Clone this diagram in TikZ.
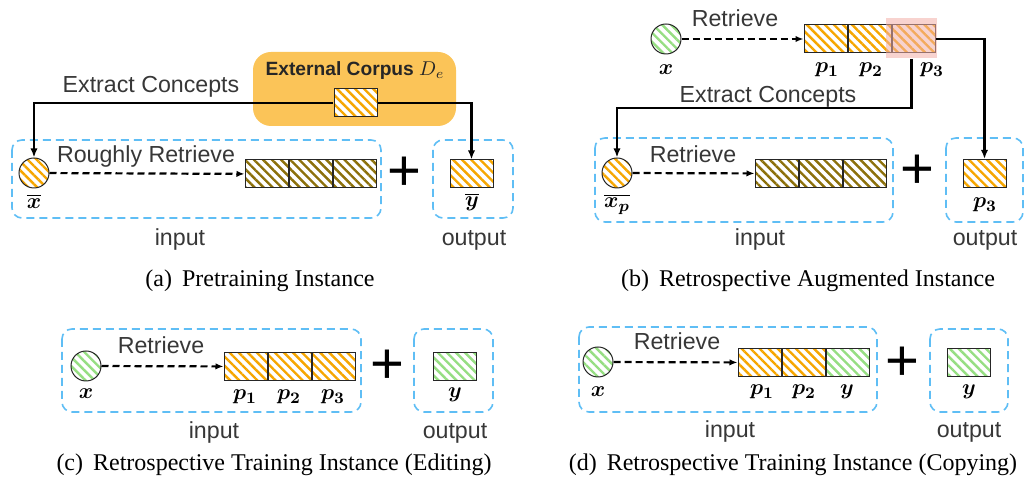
\documentclass[tikz,border=0pt]{standalone}
\usepackage{amsmath,amssymb}
\usepackage[no-math]{fontspec}
\setmainfont{Liberation Serif}
\setsansfont{Liberation Sans}
\usepackage{xcolor}
\usetikzlibrary{arrows.meta, positioning, patterns.meta}

\definecolor{corpus}{RGB}{251,196,88}
\definecolor{hatchorange}{RGB}{246,166,0}
\definecolor{hatchgreen}{RGB}{150,222,130}
\definecolor{hatcholive}{RGB}{140,112,10}
\definecolor{boxblue}{RGB}{95,190,245}
\definecolor{labelgray}{RGB}{55,55,55}
\definecolor{highlight}{RGB}{242,175,168}

\begin{document}
\begin{tikzpicture}[x=0.5pt, y=-0.5pt, thick]
    \tikzstyle{cell} = [rectangle, draw=black!85, line width=0.5pt, minimum width=21.5pt, minimum height=14pt, inner sep=0pt, preaction={fill=white}]
    \tikzstyle{token} = [circle, draw=black!85, line width=0.5pt, minimum size=15pt, inner sep=0pt, preaction={fill=white}]
    \tikzstyle{orangefill} = [pattern={Lines[angle=-45,distance=3.2pt,line width=1.2pt]}, pattern color=hatchorange]
    \tikzstyle{greenfill} = [pattern={Lines[angle=-45,distance=3.2pt,line width=1.2pt]}, pattern color=hatchgreen]
    \tikzstyle{olivefill} = [pattern={Lines[angle=-45,distance=3.2pt,line width=1.2pt]}, pattern color=hatcholive]
    \tikzstyle{group} = [draw=boxblue, dash pattern=on 4pt off 2.5pt, rounded corners=5pt, line width=0.8pt]
    \tikzstyle{line} = [draw, -{Latex[length=4.5pt,width=3.6pt]}, line width=1.1pt]
    \tikzstyle{retrieve} = [draw, -{Latex[length=4pt,width=3.2pt]}, dash pattern=on 3.5pt off 2pt, line width=1.1pt]
    \tikzstyle{lbl} = [font=\sffamily\fontsize{11.6}{13}\selectfont, text=labelgray, inner sep=1pt]
    \tikzstyle{var} = [font=\fontsize{11}{13}\selectfont, inner sep=1pt]
    \tikzstyle{plus} = [font=\sffamily\fontsize{29}{29}\selectfont, inner sep=0pt]
    \tikzstyle{caption} = [font=\fontsize{12}{14}\selectfont]

    \useasboundingbox (0,0) rectangle (1024,485);

    % (a) Pretraining Instance
    \node [rounded corners=9pt, fill=corpus, minimum width=101.5pt, minimum height=37pt] (corpus) at (354.5,89) {};
    \node [font=\sffamily\bfseries\fontsize{9.6}{11}\selectfont, text=black!85] (corpustxt) at (355,71) {External Corpus $D_e$};
    \node [cell, orangefill] (doc) at (355.5,103) {};
    \node [lbl] (extracta) at (151,87) {Extract Concepts};
    \draw [group] (12,140) rectangle (381,218);
    \draw [group] (433,140) rectangle (513,218);
    \node [token, orangefill] (xa) at (34,173) {};
    \node [lbl] (roughly) at (146,157) {Roughly Retrieve};
    \node [cell, olivefill] (ra1) at (266.5,174) {};
    \node [cell, olivefill, right=0pt of ra1] (ra2) {};
    \node [cell, olivefill, right=0pt of ra2] (ra3) {};
    \node [plus] (plusa) at (404,174) {+};
    \node [cell, orangefill] (ya) at (471.5,174) {};
    \node [var] (xalbl) at (34,201) {$\overline{\boldsymbol{x}}$};
    \node [var] (yalbl) at (472,202) {$\overline{\boldsymbol{y}}$};
    \node [lbl] (ina) at (180,240) {input};
    \node [lbl] (outa) at (474,240) {output};
    \node [caption] (capa) at (260,281) {(a)\, Pretraining Instance};
    \path [retrieve] (xa) -- (ra1);
    \path [line] (doc.west) -| (xa.north);
    \path [line] (doc.east) -| (ya.north);

    % (b) Retrospective Augmented Instance
    \node [token, greenfill] (xb) at (666,39) {};
    \node [lbl] (retb) at (735,18) {Retrieve};
    \node [cell, orangefill] (pb1) at (825.5,39) {};
    \node [cell, orangefill, right=0pt of pb1] (pb2) {};
    \node [cell, orangefill, right=0pt of pb2] (pb3) {};
    \node [fill=highlight, fill opacity=0.55, minimum width=25.5pt, minimum height=20pt, inner sep=0pt] (hl) at (911.5,38) {};
    \node [var] (xblbl) at (666,70) {$\boldsymbol{x}$};
    \node [var] (pb1lbl) at (827,70) {$\boldsymbol{p_1}$};
    \node [var] (pb2lbl) at (871,70) {$\boldsymbol{p_2}$};
    \node [var] (pb3lbl) at (932,70) {$\boldsymbol{p_3}$};
    \node [lbl] (extractb) at (768,97) {Extract Concepts};
    \draw [group] (595,138) rectangle (893,222);
    \draw [group] (946,138) rectangle (1023,222);
    \node [token, orangefill] (xpb) at (617,173) {};
    \node [lbl] (retb2) at (693,154) {Retrieve};
    \node [cell, olivefill] (rb1) at (776.5,173.5) {};
    \node [cell, olivefill, right=0pt of rb1] (rb2) {};
    \node [cell, olivefill, right=0pt of rb2] (rb3) {};
    \node [plus] (plusb) at (917,172) {+};
    \node [cell, orangefill] (ob) at (984.5,173.5) {};
    \node [var] (xpblbl) at (617,204) {$\overline{\boldsymbol{x_p}}$};
    \node [var] (oblbl) at (985,205) {$\boldsymbol{p_3}$};
    \node [lbl] (inb) at (760,240) {input};
    \node [lbl] (outb) at (985,240) {output};
    \node [caption] (capb) at (808,281) {(b)\, Retrospective Augmented Instance};
    \path [retrieve] (xb) -- (pb1);
    \path [retrieve] (xpb) -- (rb1);
    \path [line] (pb3.east) -| (ob.north);
    \path [line] (hl.south) -- ++(0,49) -| (xpb.north);

    % (c) Retrospective Training Instance (Editing)
    \draw [group] (62,329) rectangle (361,412);
    \draw [group] (414,329) rectangle (493,412);
    \node [token, greenfill] (xc) at (86,366) {};
    \node [lbl] (retc) at (161,345) {Retrieve};
    \node [cell, orangefill] (pc1) at (245.5,366.5) {};
    \node [cell, orangefill, right=0pt of pc1] (pc2) {};
    \node [cell, orangefill, right=0pt of pc2] (pc3) {};
    \node [plus] (plusc) at (387,367) {+};
    \node [cell, greenfill] (yc) at (454.5,366.5) {};
    \node [var] (xclbl) at (86,394) {$\boldsymbol{x}$};
    \node [var] (pc1lbl) at (245,397) {$\boldsymbol{p_1}$};
    \node [var] (pc2lbl) at (289,397) {$\boldsymbol{p_2}$};
    \node [var] (pc3lbl) at (333,397) {$\boldsymbol{p_3}$};
    \node [var] (yclbl) at (455,395) {$\boldsymbol{y}$};
    \node [lbl] (inc) at (214,433) {input};
    \node [lbl] (outc) at (455,433) {output};
    \node [caption] (capc) at (274,465) {(c)\, Retrospective Training Instance (Editing)};
    \path [retrieve] (xc) -- (pc1);

    % (d) Retrospective Training Instance (Copying)
    \draw [group] (579,327) rectangle (877,412);
    \draw [group] (930,329) rectangle (1008,412);
    \node [token, greenfill] (xd) at (598,362) {};
    \node [lbl] (retd) at (677,341) {Retrieve};
    \node [cell, orangefill] (pd1) at (759.5,362.5) {};
    \node [cell, orangefill, right=0pt of pd1] (pd2) {};
    \node [cell, greenfill, right=0pt of pd2] (pd3) {};
    \node [plus] (plusd) at (902,364) {+};
    \node [cell, greenfill] (yd) at (968.5,362.5) {};
    \node [var] (xdlbl) at (598,392) {$\boldsymbol{x}$};
    \node [var] (pd1lbl) at (762,392) {$\boldsymbol{p_1}$};
    \node [var] (pd2lbl) at (804,392) {$\boldsymbol{p_2}$};
    \node [var] (pd3lbl) at (847,392) {$\boldsymbol{y}$};
    \node [var] (ydlbl) at (969,392) {$\boldsymbol{y}$};
    \node [lbl] (ind) at (730,432) {input};
    \node [lbl] (outd) at (969,432) {output};
    \node [caption] (capd) at (793,465) {(d)\, Retrospective Training Instance (Copying)};
    \path [retrieve] (xd) -- (pd1);
\end{tikzpicture}
\end{document}
